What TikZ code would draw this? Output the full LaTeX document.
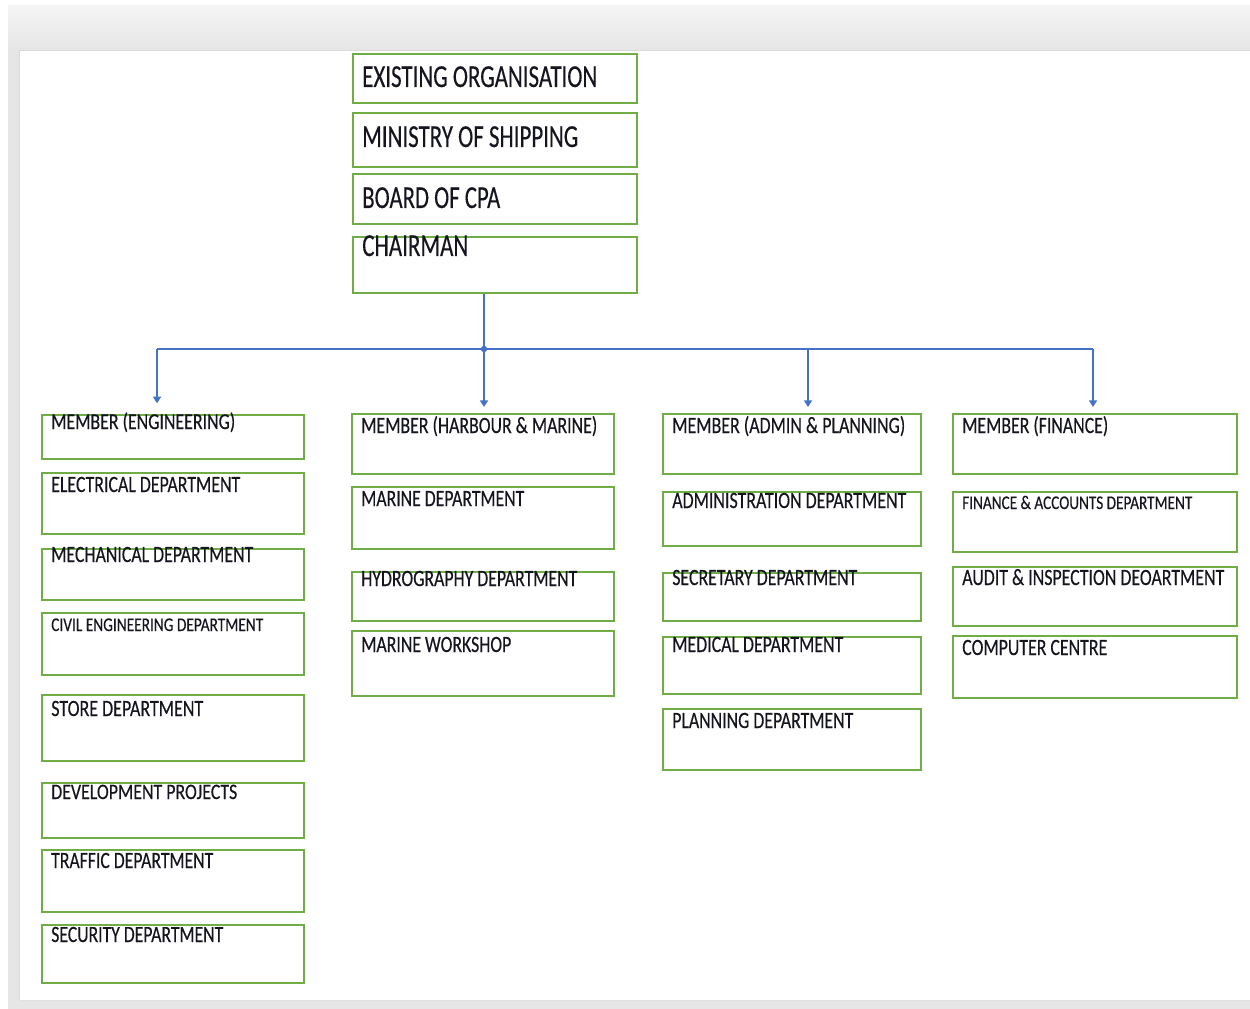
\documentclass[tikz,border=0pt]{standalone}
\usepackage{fontspec}
\setmainfont{Carlito}[UprightFeatures={FakeBold=0.35}]
\usepackage{graphicx}
\usetikzlibrary{arrows.meta}
\newlength\pxu
\setlength\pxu{0.75pt}
\definecolor{boxgreen}{HTML}{70AD47}
\definecolor{connblue}{HTML}{4472C4}
\definecolor{txtcol}{HTML}{15151F}
\definecolor{frameg}{HTML}{E6E6E6}
\tikzset{
  boxst/.style={draw=boxgreen, line width=1.8pt, fill=white, inner sep=0pt, anchor=north west},
  txtst/.style={inner sep=0pt, anchor=base west, text=txtcol},
  conn/.style={draw=connblue, line width=1.8pt},
  arr/.style={conn, -{Triangle[width=6pt,length=5pt]}},
}
% \obox{name}{x1}{y1}{x2}{y2}{baseline}{textwidth}{fontsize pt}{text}
\newcommand\obox[9]{%
  \node[boxst, minimum width={(#4-#2)*0.75pt}, minimum height={(#5-#3)*0.75pt}] (#1) at (#2,#3) {};
  \node[txtst] (#1-t) at ({#2+10},#6) {\resizebox{#7\pxu}{\height}{\fontsize{#8}{#8}\selectfont #9}};
}
\begin{document}
\begin{tikzpicture}[x=0.75pt,y=-0.75pt]
\useasboundingbox (0,0) rectangle (1250,1009);
\fill[white] (0,0) rectangle (1250,1009);
\shade[top color=white!96!black, bottom color=white!90!black] (8,6) rectangle (1250,50);
\fill[frameg] (8,50) rectangle (1250,1009);
\fill[white] (19,50) rectangle (1250,1000);
\draw[white!85!black, line width=0.6pt] (19,1000) -- (19,50) -- (1250,50);
\draw[white!88!black, line width=0.6pt] (19,1000) -- (1250,1000);
% top column
\obox{ex}{352}{53}{636}{102}{87}{235}{24}{EXISTING ORGANISATION}
\obox{min}{352}{112}{636}{166}{147}{216}{24}{MINISTRY OF SHIPPING}
\obox{brd}{352}{173}{636}{223}{208}{138}{24}{BOARD OF CPA}
\obox{chr}{352}{236}{636}{292}{256}{106}{24}{CHAIRMAN}
% column 1
\obox{meng}{41}{414}{303}{458}{429}{184}{17}{MEMBER (ENGINEERING)}
\obox{elec}{41}{472}{303}{533}{492}{189}{17.5}{ELECTRICAL DEPARTMENT}
\obox{mech}{41}{548}{303}{599}{562}{202}{17.5}{MECHANICAL DEPARTMENT}
\obox{civ}{41}{612}{303}{674}{631}{212}{14.5}{CIVIL ENGINEERING DEPARTMENT}
\obox{store}{41}{694}{303}{760}{716}{152}{17.5}{STORE DEPARTMENT}
\obox{dev}{41}{782}{303}{837}{799}{186}{16.5}{DEVELOPMENT PROJECTS}
\obox{traf}{41}{849}{303}{911}{868}{162}{17.5}{TRAFFIC DEPARTMENT}
\obox{secu}{41}{924}{303}{982}{942}{172}{17.5}{SECURITY DEPARTMENT}
% column 2
\obox{mhm}{351}{413}{613}{473}{433}{236}{17.5}{MEMBER (HARBOUR \& MARINE)}
\obox{mar}{351}{486}{613}{548}{506}{163}{17.5}{MARINE DEPARTMENT}
\obox{hyd}{351}{571}{613}{620}{586}{216}{17.5}{HYDROGRAPHY DEPARTMENT}
\obox{mws}{351}{630}{613}{695}{652}{150}{17.5}{MARINE WORKSHOP}
% column 3
\obox{map}{662}{413}{920}{473}{433}{233}{17.5}{MEMBER (ADMIN \& PLANNING)}
\obox{adm}{662}{491}{920}{545}{508}{234}{17.5}{ADMINISTRATION DEPARTMENT}
\obox{secr}{662}{572}{920}{620}{585}{185}{17.5}{SECRETARY DEPARTMENT}
\obox{med}{662}{636}{920}{693}{652}{171}{17.5}{MEDICAL DEPARTMENT}
\obox{pln}{662}{708}{920}{769}{728}{181}{17.5}{PLANNING DEPARTMENT}
% column 4
\obox{mfin}{952}{413}{1236}{473}{433}{146}{17.5}{MEMBER (FINANCE)}
\obox{fa}{952}{491}{1236}{551}{509}{230}{14.5}{FINANCE \& ACCOUNTS DEPARTMENT}
\obox{aud}{952}{566}{1236}{625}{585}{262}{17.5}{AUDIT \& INSPECTION DEOARTMENT}
\obox{comp}{952}{635}{1236}{697}{655}{145}{17.5}{COMPUTER CENTRE}
% connectors
\coordinate (j) at (484,349);
\coordinate (jl) at (157,349);
\coordinate (jr) at (1093,349);
\coordinate (ja) at (808,349);
\draw[conn] (j |- chr.south) -- (j);
\draw[conn] (jl) -- (jr);
\fill[connblue] (j) circle (2.4pt);
\draw[arr, shorten >=8pt] (jl) -- (jl |- meng.north);
\draw[arr, shorten >=4.5pt] (j) -- (j |- mhm.north);
\draw[arr, shorten >=4.5pt] (ja) -- (ja |- map.north);
\draw[arr, shorten >=4.5pt] (jr) -- (jr |- mfin.north);
\end{tikzpicture}
\end{document}
